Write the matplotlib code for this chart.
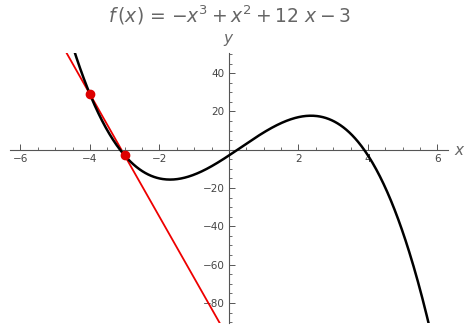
import matplotlib.pyplot as plt
import numpy as np
from matplotlib.ticker import MultipleLocator

# f(x) = -x^3 + x^2 + 12x - 3
coeffs = [-1, 1, 12, -3]
point_x = [-4, -3]
point_y = [29, -3]
x_range = (-6.3, 6.3)
y_range = (-90.5, 50.5)
x_ticks = [-6, -4, -2, 2, 4, 6]
y_ticks = [-80, -60, -40, -20, 20, 40]

axis_color = "#555555"
label_color = "#666666"

xs = np.linspace(x_range[0], x_range[1], 600)
ys = np.polyval(coeffs, xs)
slope = (point_y[1] - point_y[0]) / (point_x[1] - point_x[0])
line_y = point_y[0] + slope * (xs - point_x[0])

fig = plt.figure(figsize=(4.75, 3.25), dpi=100)
ax = fig.add_axes([0.021, 0.006, 0.922, 0.831])
ax.plot(xs, line_y, color="#ee0000", linewidth=1.3, zorder=2)
ax.plot(xs, ys, color="black", linewidth=1.8, zorder=3)
ax.scatter(point_x, point_y, s=36, color="#dd0000", zorder=4)

ax.set_xlim(*x_range)
ax.set_ylim(*y_range)
for side in ["top", "right"]:
    ax.spines[side].set_visible(False)
ax.spines["left"].set_position(("data", 0))
ax.spines["bottom"].set_position(("data", 0))
for side in ["left", "bottom"]:
    ax.spines[side].set_color(axis_color)
    ax.spines[side].set_linewidth(0.8)

ax.set_xticks(x_ticks)
ax.set_yticks(y_ticks)
ax.xaxis.set_minor_locator(MultipleLocator(0.5))
ax.yaxis.set_minor_locator(MultipleLocator(5))
ax.tick_params(axis="both", which="major", direction="in", length=4, width=0.7,
               color=axis_color, labelsize=7.5, labelcolor="#444444", pad=3)
ax.tick_params(axis="both", which="minor", direction="in", length=2.2, width=0.6,
               color=axis_color)
ax.set_xticklabels([f"{t}".replace("-", "\u2212") for t in x_ticks])
ax.set_yticklabels([f"{t}".replace("-", "\u2212") for t in y_ticks])

fig.text(0.483, 0.952, r"$f\,(x)$ = $-x^3 + x^2 + 12\ x - 3$", ha="center", va="center",
         fontsize=13.5, color=label_color)
fig.text(0.48, 0.882, "y", ha="center", va="center", fontsize=11,
         style="italic", color=label_color)
fig.text(0.967, 0.538, "x", ha="center", va="center", fontsize=11,
         style="italic", color=label_color)

fig.savefig("out.png", dpi=100)
